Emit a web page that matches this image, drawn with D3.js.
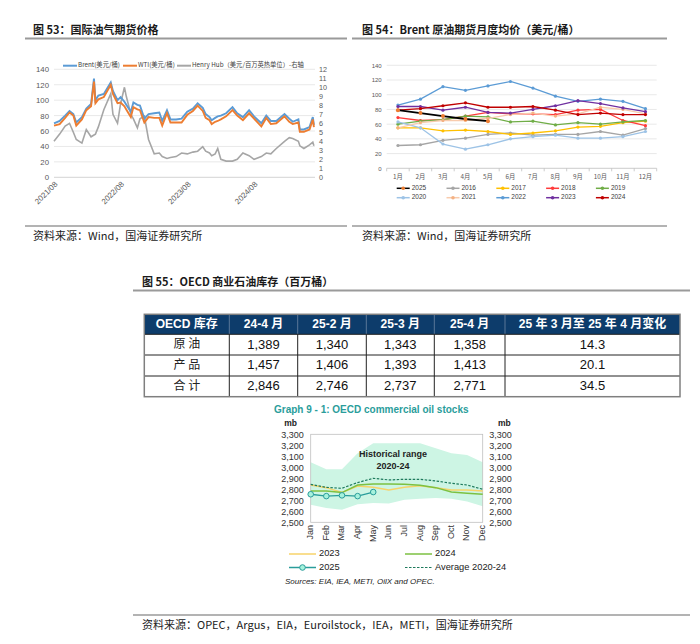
<!DOCTYPE html>
<html>
<head>
<meta charset="utf-8">
<script src="https://cdn.jsdelivr.net/npm/d3@7/dist/d3.min.js"></script>
<style>
  body { margin: 0; background: #fff; }
  svg { display: block; font-family: "Liberation Sans", Arial, sans-serif; }
</style>
</head>
<body>
<svg id="page" width="700" height="644"></svg>
<script>
// ===== 图53 国际油气期货价格 =====
var dates53 = ["2021-08-01","2021-09-01","2021-10-01","2021-10-25","2021-11-15","2021-12-01","2022-01-01","2022-01-25","2022-02-20","2022-03-08","2022-03-16","2022-04-01","2022-05-01","2022-06-08","2022-06-20","2022-07-15","2022-08-01","2022-08-22","2022-09-01","2022-09-26","2022-10-10","2022-11-01","2022-11-15","2022-12-09","2023-01-01","2023-02-01","2023-03-01","2023-03-17","2023-04-12","2023-05-01","2023-06-01","2023-07-01","2023-08-01","2023-09-01","2023-09-27","2023-10-25","2023-11-10","2023-12-01","2023-12-13","2024-01-01","2024-01-15","2024-02-01","2024-03-01","2024-04-05","2024-05-01","2024-06-01","2024-07-05","2024-08-01","2024-09-10","2024-10-07","2024-11-01","2024-12-01","2025-01-15","2025-02-10","2025-03-01","2025-04-01","2025-04-09","2025-05-01","2025-06-01","2025-06-19","2025-06-25"];
var brent53 = [70,73,80,86,82,71,78,89,95,128,100,106,108,123,112,100,104,98,94,85,97,94,93,76,82,83,84,73,87,75,75,76,85,89,96,90,82,78,74,77,79,80,83,91,83,78,87,79,70,80,73,73,82,76,72,75,62,62,65,78,68];
var wti53 = [67,69,77,84,80,67,75,87,92,124,96,101,104,120,108,96,97,92,88,78,91,88,87,71,78,77,77,67,83,71,71,71,81,86,93,86,77,74,69,72,73,75,79,87,80,74,83,76,66,77,69,70,79,72,69,71,59,59,62,75,65];
var hh53 = [4.0,4.8,5.7,6.0,5.0,4.2,3.8,5.3,4.5,4.7,4.8,5.6,7.5,9.3,7.0,6.0,8.2,10.0,9.0,7.0,6.5,5.5,6.5,6.8,4.2,2.6,2.7,2.3,2.1,2.2,2.3,2.7,2.6,2.8,2.9,3.4,2.9,2.7,2.4,2.6,3.2,2.0,1.8,1.8,2.0,2.7,2.4,2.0,2.3,2.7,2.6,3.2,4.0,4.4,4.3,4.0,3.5,3.2,3.6,3.9,3.5];
var ticks53 = ["2021-08-01","2022-08-01","2023-08-01","2024-08-01"];

// ===== 图54 Brent 月度均价 =====
var months54 = ["1月","2月","3月","4月","5月","6月","7月","8月","9月","10月","11月","12月"];
var y2016 = [31,32,38,41,46,48,45,46,46,50,45,54];
var y2017 = [55,55,51,52,50,46,48,51,56,57,62,64];
var y2018 = [69,65,66,71,76,74,74,73,79,80,65,58];
var y2019 = [60,64,66,71,70,63,64,59,62,60,63,65];
var y2020 = [63,55,33,26,32,40,43,45,41,41,43,50];
var y2021 = [55,62,65,65,68,73,75,71,74,83,80,74];
var y2022 = [86,94,111,106,112,118,109,98,91,94,91,81];
var y2023 = [84,84,79,83,76,75,80,85,92,88,82,77];
var y2024 = [79,81,85,89,83,83,84,79,73,75,73,73];
var y2025 = [79,75,71,67,64];

// ===== 图55 OECD 商业石油库存 =====
var tableHead = ["OECD 库存","24-4 月","25-2 月","25-3 月","25-4 月","25 年 3 月至 25 年 4 月变化"];
var tableRows = ["原 油","产 品","合 计"];
var stock2404 = [1389,1457,2846];
var stock2502 = [1340,1406,2746];
var stock2503 = [1343,1393,2737];
var stock2504 = [1358,1413,2771];
var stockChange = [14.3,20.1,34.5];

// ===== Graph 9-1 OECD commercial oil stocks =====
var months9 = ["Jan","Feb","Mar","Apr","May","Jun","Jul","Aug","Sep","Oct","Nov","Dec"];
var histHigh = [3045,2982,2982,3127,3218,3218,3218,3218,3173,3127,3112,3045];
var histLow = [2660,2630,2615,2665,2675,2670,2705,2715,2720,2715,2690,2645];
var avg2024 = [2845,2818,2809,2861,2900,2885,2891,2891,2876,2855,2839,2800];
var stocks2023 = [2839,2815,2772,2830,2818,2794,2818,2833,2815,2794,2794,2785];
var stocks2024 = [2785,2785,2770,2839,2848,2848,2845,2836,2815,2775,2764,2755];
var stocks2025 = [2755,2738,2745,2738,2775];

var cjk = '"Noto Sans CJK SC", sans-serif';
var svg = d3.select("#page");

// ---- section titles and source notes ----
function sectionTitle(x, y, text, x0, x1) {
	svg.append("text")
		.attr("x", x).attr("y", y)
		.attr("font-family", cjk).attr("font-weight", "bold")
		.attr("font-size", 11).attr("fill", "#1a1a1a")
		.text(text);
	svg.append("line")
		.attr("x1", x0).attr("x2", x1)
		.attr("y1", y + 4.5).attr("y2", y + 4.5)
		.attr("stroke", "#9a9a9a").attr("stroke-width", 2);
}
function sourceNote(x, y, text, x0, x1) {
	svg.append("line")
		.attr("x1", x0).attr("x2", x1)
		.attr("y1", y - 14).attr("y2", y - 14)
		.attr("stroke", "#9a9a9a").attr("stroke-width", 1.5);
	svg.append("text")
		.attr("x", x).attr("y", y)
		.attr("font-family", cjk).attr("font-size", 11)
		.attr("fill", "#222")
		.text(text);
}

sectionTitle(33, 34, "图 53：国际油气期货价格", 25, 347);
sectionTitle(362, 34, "图 54：Brent 原油期货月度均价（美元/桶）", 352, 667);
sectionTitle(142, 286, "图 55：OECD 商业石油库存（百万桶）", 133, 690);
sourceNote(33, 240, "资料来源：Wind，国海证券研究所", 25, 347);
sourceNote(362, 240, "资料来源：Wind，国海证券研究所", 352, 667);
sourceNote(142, 629, "资料来源：OPEC，Argus，EIA，Euroilstock，IEA，METI，国海证券研究所", 133, 690);

// =====================================================================
// 图53
// =====================================================================
var parseDay = d3.timeParse("%Y-%m-%d");
var x53 = d3.scaleTime().domain([parseDay("2021-08-01"), parseDay("2025-07-01")]).range([54, 315]);
var y53 = d3.scaleLinear().domain([0, 140]).range([177.3, 69.3]);
var y53r = d3.scaleLinear().domain([0, 12]).range([177.3, 69.3]);
var g53 = svg.append("g");

g53.selectAll(".grid53").data(y53.ticks(7)).enter().append("line")
	.attr("x1", 54).attr("x2", 315)
	.attr("y1", d => y53(d)).attr("y2", d => y53(d))
	.attr("stroke", d => d === 0 ? "#c8c8c8" : "#e3e3e3").attr("stroke-width", 0.8);

g53.append("g").attr("transform", "translate(54,0)")
	.call(d3.axisLeft(y53).ticks(7).tickSize(0).tickPadding(5))
	.call(g => g.select(".domain").remove())
	.selectAll("text").attr("font-size", 7.8).attr("fill", "#595959").attr("font-family", "Liberation Sans");

g53.append("g").attr("transform", "translate(315,0)")
	.call(d3.axisRight(y53r).ticks(12).tickSize(0).tickPadding(4))
	.call(g => g.select(".domain").remove())
	.selectAll("text").attr("font-size", 7.2).attr("fill", "#595959").attr("font-family", "Liberation Sans");

g53.append("g").attr("transform", "translate(0,177.3)")
	.call(d3.axisBottom(x53).tickValues(ticks53.map(parseDay)).tickFormat(d3.timeFormat("%Y/%m")).tickSize(0))
	.call(g => g.select(".domain").remove())
	.selectAll("text")
	.attr("y", 0).attr("dy", 0)
	.attr("transform", "translate(2,6) rotate(-45)")
	.attr("text-anchor", "end").attr("dominant-baseline", "middle")
	.attr("font-size", 7.8).attr("fill", "#595959").attr("font-family", "Liberation Sans");

var rows53 = dates53.map((d, i) => ({ date: parseDay(d), brent: brent53[i], wti: wti53[i], hh: hh53[i] }));
var line53 = key => d3.line().x(d => x53(d.date)).y(d => key === "hh" ? y53r(d.hh) : y53(d[key]));

g53.append("path").datum(rows53).attr("d", line53("hh"))
	.attr("fill", "none").attr("stroke", "#a6a6a6").attr("stroke-width", 1.6);
g53.append("path").datum(rows53).attr("d", line53("brent"))
	.attr("fill", "none").attr("stroke", "#5b9bd5").attr("stroke-width", 1.9);
g53.append("path").datum(rows53).attr("d", line53("wti"))
	.attr("fill", "none").attr("stroke", "#ed7d31").attr("stroke-width", 1.9);

// legend
var legend53 = [
	{ x: 63, c: "#5b9bd5", t: "Brent(美元/桶)" },
	{ x: 123, c: "#ed7d31", t: "WTI(美元/桶)" },
	{ x: 177, c: "#a6a6a6", t: "Henry Hub（美元/百万英热单位）-右轴" }
];
legend53.forEach(function (d) {
	g53.append("line").attr("x1", d.x).attr("x2", d.x + 14).attr("y1", 65.7).attr("y2", 65.7)
		.attr("stroke", d.c).attr("stroke-width", 2);
	g53.append("text").attr("x", d.x + 15).attr("y", 65.7).attr("dominant-baseline", "middle")
		.attr("font-family", cjk).attr("font-size", 6.3).attr("fill", "#404040").text(d.t);
});

// =====================================================================
// 图54
// =====================================================================
var x54 = d3.scaleBand().domain(months54).range([386.7, 656.7]);
var y54 = d3.scaleLinear().domain([0, 140]).range([168.3, 65.3]);
var g54 = svg.append("g");

g54.selectAll(".grid54").data(y54.ticks(7).filter(d => d > 0)).enter().append("line")
	.attr("x1", 386.7).attr("x2", 656.7)
	.attr("y1", d => y54(d)).attr("y2", d => y54(d))
	.attr("stroke", "#e3e3e3").attr("stroke-width", 0.8);

g54.append("g").attr("transform", "translate(386.7,0)")
	.call(d3.axisLeft(y54).ticks(7).tickSize(0).tickPadding(5))
	.call(g => g.select(".domain").remove())
	.selectAll("text").attr("font-size", 6).attr("fill", "#595959").attr("font-family", "Liberation Sans");

g54.append("line").attr("x1", 386.7).attr("x2", 656.7).attr("y1", 168.3).attr("y2", 168.3)
	.attr("stroke", "#bfbfbf").attr("stroke-width", 0.8);
g54.selectAll(".tick54").data(d3.range(months54.length + 1)).enter().append("line")
	.attr("x1", i => 386.7 + i * x54.step()).attr("x2", i => 386.7 + i * x54.step())
	.attr("y1", 168.3).attr("y2", 171.3)
	.attr("stroke", "#bfbfbf").attr("stroke-width", 0.8);
g54.selectAll(".xl54").data(months54).enter().append("text")
	.attr("x", d => x54(d) + x54.bandwidth() / 2).attr("y", 177.5)
	.attr("text-anchor", "middle").attr("dominant-baseline", "middle")
	.attr("font-family", cjk).attr("font-size", 6.3).attr("fill", "#595959").text(d => d);

var series54 = [
	{ name: "2016", v: y2016, c: "#a5a5a5", m: "#a5a5a5" },
	{ name: "2017", v: y2017, c: "#ffc000", m: "#ffc000" },
	{ name: "2018", v: y2018, c: "#ff3b3b", m: "#ff3b3b" },
	{ name: "2019", v: y2019, c: "#70ad47", m: "#70ad47" },
	{ name: "2020", v: y2020, c: "#9dc3e6", m: "#9dc3e6" },
	{ name: "2021", v: y2021, c: "#f8cbad", m: "#f4b183" },
	{ name: "2022", v: y2022, c: "#5b9bd5", m: "#5b9bd5" },
	{ name: "2023", v: y2023, c: "#7030a0", m: "#7030a0" },
	{ name: "2024", v: y2024, c: "#c00000", m: "#c00000" },
	{ name: "2025", v: y2025, c: "#000000", m: "#ed7d31" }
];
var line54 = d3.line().x((d, i) => x54(months54[i]) + x54.bandwidth() / 2).y(d => y54(d));
series54.forEach(function (s) {
	g54.append("path").datum(s.v).attr("d", line54)
		.attr("fill", "none").attr("stroke", s.c).attr("stroke-width", s.name === "2025" ? 1.8 : 1.3);
	g54.selectAll(".m" + s.name).data(s.v).enter().append("circle")
		.attr("cx", (d, i) => x54(months54[i]) + x54.bandwidth() / 2).attr("cy", d => y54(d))
		.attr("r", s.name === "2025" ? 2 : 1.6).attr("fill", s.m);
});

// legend: 2025 first, then 2016..2024
var legendOrder54 = ["2025","2016","2017","2018","2019","2020","2021","2022","2023","2024"];
legendOrder54.forEach(function (name, k) {
	var s = series54.find(d => d.name === name);
	var lx = 396.7 + (k % 5) * 49.8;
	var ly = k < 5 ? 188.3 : 197.7;
	g54.append("line").attr("x1", lx).attr("x2", lx + 13).attr("y1", ly).attr("y2", ly)
		.attr("stroke", s.c).attr("stroke-width", 1.5);
	g54.append("circle").attr("cx", lx + 6.5).attr("cy", ly).attr("r", 1.8).attr("fill", s.m);
	g54.append("text").attr("x", lx + 15).attr("y", ly).attr("dominant-baseline", "middle")
		.attr("font-size", 6.5).attr("fill", "#404040").text(name);
});

// =====================================================================
// 图55 table
// =====================================================================
var colX = [144.3, 229.3, 297.7, 366.3, 434.3, 505, 680];
var rowY = [314.3, 334.3, 355, 376, 396.7];
var fmtInt = d3.format(",");
var fmtOne = d3.format(".1f");
var g55 = svg.append("g");

g55.append("rect").attr("x", colX[0]).attr("y", rowY[0])
	.attr("width", colX[6] - colX[0]).attr("height", rowY[1] - rowY[0]).attr("fill", "#0d3c6b");
tableHead.forEach(function (t, j) {
	g55.append("text")
		.attr("x", (colX[j] + colX[j + 1]) / 2).attr("y", (rowY[0] + rowY[1]) / 2 + 0.5)
		.attr("text-anchor", "middle").attr("dominant-baseline", "middle")
		.attr("font-family", '"Liberation Sans", "Noto Sans CJK SC", sans-serif')
		.attr("font-weight", "bold").attr("font-size", 12).attr("fill", "#fff").text(t);
});
var cols55 = [stock2404, stock2502, stock2503, stock2504];
tableRows.forEach(function (label, i) {
	var cy = (rowY[i + 1] + rowY[i + 2]) / 2 + 0.5;
	g55.append("text").attr("x", (colX[0] + colX[1]) / 2).attr("y", cy)
		.attr("text-anchor", "middle").attr("dominant-baseline", "middle")
		.attr("font-family", cjk).attr("font-size", 12).attr("fill", "#222").text(label);
	cols55.forEach(function (col, j) {
		g55.append("text").attr("x", (colX[j + 1] + colX[j + 2]) / 2).attr("y", cy)
			.attr("text-anchor", "middle").attr("dominant-baseline", "middle")
			.attr("font-size", 13).attr("fill", "#111").text(fmtInt(col[i]));
	});
	g55.append("text").attr("x", (colX[5] + colX[6]) / 2).attr("y", cy)
		.attr("text-anchor", "middle").attr("dominant-baseline", "middle")
		.attr("font-size", 13).attr("fill", "#111").text(fmtOne(stockChange[i]));
});
// grid lines
colX.slice(1, 6).forEach(function (x) {
	g55.append("line").attr("x1", x).attr("x2", x).attr("y1", rowY[0]).attr("y2", rowY[1])
		.attr("stroke", "#6f86a3").attr("stroke-width", 0.8);
	g55.append("line").attr("x1", x).attr("x2", x).attr("y1", rowY[1]).attr("y2", rowY[4])
		.attr("stroke", "#222").attr("stroke-width", 1);
});
rowY.slice(1, 4).forEach(function (y) {
	g55.append("line").attr("x1", colX[0]).attr("x2", colX[6]).attr("y1", y).attr("y2", y)
		.attr("stroke", "#222").attr("stroke-width", 1);
});
g55.append("rect").attr("x", colX[0]).attr("y", rowY[0])
	.attr("width", colX[6] - colX[0]).attr("height", rowY[4] - rowY[0])
	.attr("fill", "none").attr("stroke", "#7f7f7f").attr("stroke-width", 1.5);

// =====================================================================
// Graph 9 - 1
// =====================================================================
var x9 = d3.scalePoint().domain(months9).range([310.7, 482.7]);
var y9 = d3.scaleLinear().domain([2500, 3300]).range([522.3, 434.3]);
var g9 = svg.append("g");
var teal = "#2a9d9b";

g9.append("text").attr("x", 274).attr("y", 412.5)
	.attr("font-weight", "bold").attr("font-size", 10).attr("fill", teal)
	.text("Graph 9 - 1: OECD commercial oil stocks");

var band9 = months9.map((m, i) => ({ m: m, hi: histHigh[i], lo: histLow[i] }));
g9.append("path").datum(band9)
	.attr("d", d3.area().x(d => x9(d.m)).y0(d => y9(d.lo)).y1(d => y9(d.hi)))
	.attr("fill", "#cdf5e4");

g9.append("rect").attr("x", 310.7).attr("y", 434.3).attr("width", 172).attr("height", 88)
	.attr("fill", "none").attr("stroke", "#bfbfbf").attr("stroke-width", 0.8);

var line9 = d3.line().x((d, i) => x9(months9[i])).y(d => y9(d));
g9.append("path").datum(stocks2023).attr("d", line9)
	.attr("fill", "none").attr("stroke", "#f7d36a").attr("stroke-width", 1.5);
g9.append("path").datum(stocks2024).attr("d", line9)
	.attr("fill", "none").attr("stroke", "#7cc142").attr("stroke-width", 1.5);
g9.append("path").datum(avg2024).attr("d", line9)
	.attr("fill", "none").attr("stroke", "#1e7a5c").attr("stroke-width", 1.2).attr("stroke-dasharray", "2.5,1.5");
g9.append("path").datum(stocks2025).attr("d", line9)
	.attr("fill", "none").attr("stroke", teal).attr("stroke-width", 1.3);
g9.selectAll(".m2025").data(stocks2025).enter().append("circle")
	.attr("cx", (d, i) => x9(months9[i])).attr("cy", d => y9(d)).attr("r", 2.8)
	.attr("fill", "#a6f2dc").attr("stroke", teal).attr("stroke-width", 1);

g9.append("text").attr("x", 393).attr("y", 457).attr("text-anchor", "middle")
	.attr("font-weight", "bold").attr("font-size", 9).attr("fill", "#222").text("Historical range");
g9.append("text").attr("x", 393).attr("y", 469).attr("text-anchor", "middle")
	.attr("font-weight", "bold").attr("font-size", 9).attr("fill", "#222").text("2020-24");

var fmtStock = d3.format(",");
g9.append("g").attr("transform", "translate(310.7,0)")
	.call(d3.axisLeft(y9).ticks(8).tickSize(0).tickPadding(7).tickFormat(fmtStock))
	.call(g => g.select(".domain").remove())
	.selectAll("text").attr("font-size", 9).attr("fill", "#333").attr("font-family", "Liberation Sans");
g9.append("g").attr("transform", "translate(482.7,0)")
	.call(d3.axisRight(y9).ticks(8).tickSize(0).tickPadding(6.5).tickFormat(fmtStock))
	.call(g => g.select(".domain").remove())
	.selectAll("text").attr("font-size", 9).attr("fill", "#333").attr("font-family", "Liberation Sans");
g9.append("text").attr("x", 297).attr("y", 425.5).attr("text-anchor", "end")
	.attr("font-weight", "bold").attr("font-size", 8.5).attr("fill", "#222").text("mb");
g9.append("text").attr("x", 498).attr("y", 425.5)
	.attr("font-weight", "bold").attr("font-size", 8.5).attr("fill", "#222").text("mb");

g9.selectAll(".xl9").data(months9).enter().append("text")
	.attr("transform", d => "translate(" + x9(d) + ",525) rotate(-90)")
	.attr("text-anchor", "end").attr("dominant-baseline", "middle")
	.attr("font-size", 9).attr("fill", "#333").text(d => d);

// legend
var legend9 = [
	{ x: 289, y: 554, t: "2023", c: "#f7d36a", dash: null, mark: false },
	{ x: 405, y: 554, t: "2024", c: "#7cc142", dash: null, mark: false },
	{ x: 289, y: 567.5, t: "2025", c: teal, dash: null, mark: true },
	{ x: 405, y: 567.5, t: "Average 2020-24", c: "#1e7a5c", dash: "2.5,1.5", mark: false }
];
legend9.forEach(function (d) {
	g9.append("line").attr("x1", d.x).attr("x2", d.x + 27).attr("y1", d.y).attr("y2", d.y)
		.attr("stroke", d.c).attr("stroke-width", d.dash ? 1.2 : 1.5).attr("stroke-dasharray", d.dash);
	if (d.mark) {
		g9.append("circle").attr("cx", d.x + 13.5).attr("cy", d.y).attr("r", 2.8)
			.attr("fill", "#a6f2dc").attr("stroke", teal).attr("stroke-width", 1);
	}
	g9.append("text").attr("x", d.x + 30).attr("y", d.y).attr("dominant-baseline", "middle")
		.attr("font-size", 9.3).attr("fill", "#222").text(d.t);
});
g9.append("text").attr("x", 285).attr("y", 584)
	.attr("font-style", "italic").attr("font-size", 8).attr("fill", "#222")
	.text("Sources: EIA, IEA, METI, OilX and OPEC.");
</script>
</body>
</html>
